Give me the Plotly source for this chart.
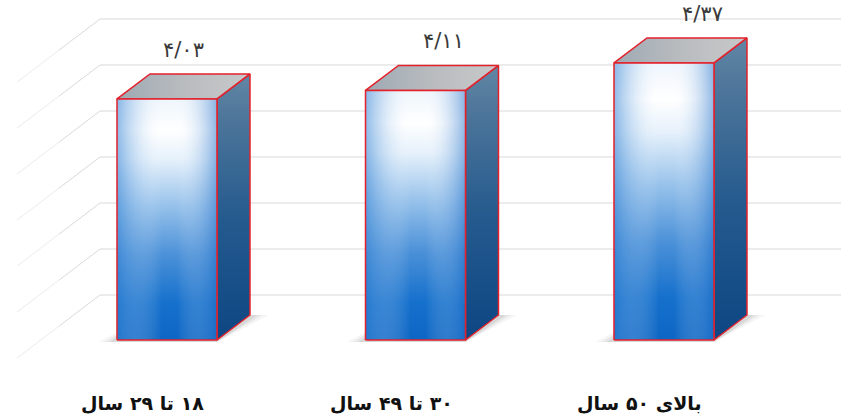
import plotly.graph_objects as go

# ---- data ----
categories = ["۱۸ تا ۲۹ سال", "۳۰ تا ۴۹ سال", "بالای ۵۰ سال"]
values = [4.03, 4.11, 4.37]
value_labels = ["۴/۰۳", "۴/۱۱", "۴/۳۷"]

# ---- value axis (hidden) ----
FLOOR = 1.75          # value at floor level of the front plane
GRID_STEP = 0.435     # gridline interval
N_GRID = 7

# ---- 3D geometry in axis units ----
HW = 0.2012           # half bar width (category units)
DX, DY = 0.1328, 0.2364       # bar depth offset
WDX, WDY = 0.2374, 0.4255     # back wall offset from bar front plane
WALL_X = -0.2696              # left wall corner (category units)
SIDE_DX, SIDE_DY = -0.334, -0.596   # left wall depth (toward viewer)

RED = "#e3212b"
FONT = "DejaVu Sans"

fig = go.Figure()

def poly(xs, ys, **kw):
    fig.add_trace(go.Scatter(x=xs + [xs[0]], y=ys + [ys[0]], mode="lines",
                             fill="toself", hoverinfo="skip", showlegend=False, **kw))

# gridlines: back wall + left wall
for k in range(N_GRID):
    g = FLOOR + k * GRID_STEP + WDY
    fig.add_trace(go.Scatter(x=[WALL_X, 2.75], y=[g, g], mode="lines",
                             line=dict(color="#d9d9d9", width=1),
                             hoverinfo="skip", showlegend=False))
    fig.add_trace(go.Scatter(x=[WALL_X, WALL_X + SIDE_DX * 0.5], y=[g, g + SIDE_DY * 0.5],
                             mode="lines", line=dict(color="#dadada", width=1),
                             hoverinfo="skip", showlegend=False))
    fig.add_trace(go.Scatter(x=[WALL_X + SIDE_DX * 0.5, WALL_X + SIDE_DX],
                             y=[g + SIDE_DY * 0.5, g + SIDE_DY],
                             mode="lines", line=dict(color="#ebebeb", width=1),
                             hoverinfo="skip", showlegend=False))

for i, v in enumerate(values):
    c = i
    # soft shadow on the floor
    for e, a in [(0.075, 0.05), (0.05, 0.07), (0.03, 0.09)]:
        poly([c - HW - e, c + HW, c + HW + DX + e, c - HW + DX],
             [FLOOR - 0.02, FLOOR - 0.02, FLOOR + DY, FLOOR + DY],
             line=dict(width=0), fillcolor=f"rgba(60,60,60,{a})")
    # right face
    poly([c + HW, c + HW + DX, c + HW + DX, c + HW],
         [FLOOR, FLOOR + DY, v + DY, v],
         line=dict(color=RED, width=1.5),
         fillgradient=dict(type="vertical",
                           colorscale=[[0, "#0d4683"], [0.45, "#245a8e"], [0.8, "#4a7399"],
                                       [1, "#6286a4"]]))
    # top face
    poly([c - HW, c + HW, c + HW + DX, c - HW + DX],
         [v, v, v + DY, v + DY],
         line=dict(color=RED, width=1.5),
         fillgradient=dict(type="horizontal",
                           colorscale=[[0, "#9ea9b3"], [0.5, "#b9bcbf"], [1, "#c7c8c9"]]))
    # front face (vertical gradient)
    fx = [c - HW, c + HW, c + HW, c - HW]
    fy = [FLOOR, FLOOR, v, v]
    poly(fx, fy, line=dict(width=0),
         fillgradient=dict(type="vertical",
                           colorscale=[[0, "#0e66c4"], [0.15, "#1570cc"], [0.35, "#4a90d8"],
                                       [0.55, "#94c0ea"], [0.75, "#e6f1fb"], [0.87, "#ffffff"],
                                       [1, "#eef5fc"]]))
    # front face (horizontal shading)
    poly(fx, fy, line=dict(width=0),
         fillgradient=dict(type="horizontal",
                           colorscale=[[0, "rgba(50,130,212,0.55)"], [0.45, "rgba(255,255,255,0)"],
                                       [0.6, "rgba(255,255,255,0)"], [1, "rgba(30,110,200,0.5)"]]))
    # front outline
    fig.add_trace(go.Scatter(x=fx + [fx[0]], y=fy + [fy[0]], mode="lines",
                             line=dict(color=RED, width=1.5),
                             hoverinfo="skip", showlegend=False))

    # value label
    fig.add_annotation(x=c + DX / 2 + i * 0.045, y=v + DY + 0.227, text=value_labels[i],
                       showarrow=False, xanchor="center", yanchor="middle",
                       font=dict(family=FONT, size=21, color="#3a3a3a"))
    # category label
    fig.add_annotation(x=c - 0.0966, y=FLOOR - 0.596,
                       text="\u200f" + categories[i] + "\u200f",
                       showarrow=False, xanchor="center", yanchor="middle",
                       font=dict(family=FONT, size=19, color="#111111", weight="bold"))

fig.update_layout(
    width=841, height=416, autosize=False,
    margin=dict(l=0, r=0, t=0, b=0),
    paper_bgcolor="white", plot_bgcolor="white",
    xaxis=dict(range=[-0.6720, 2.7123], visible=False, fixedrange=True),
    yaxis=dict(range=[1.0313, 4.9651], visible=False, fixedrange=True),
    showlegend=False,
)

fig.write_html("out.html")
